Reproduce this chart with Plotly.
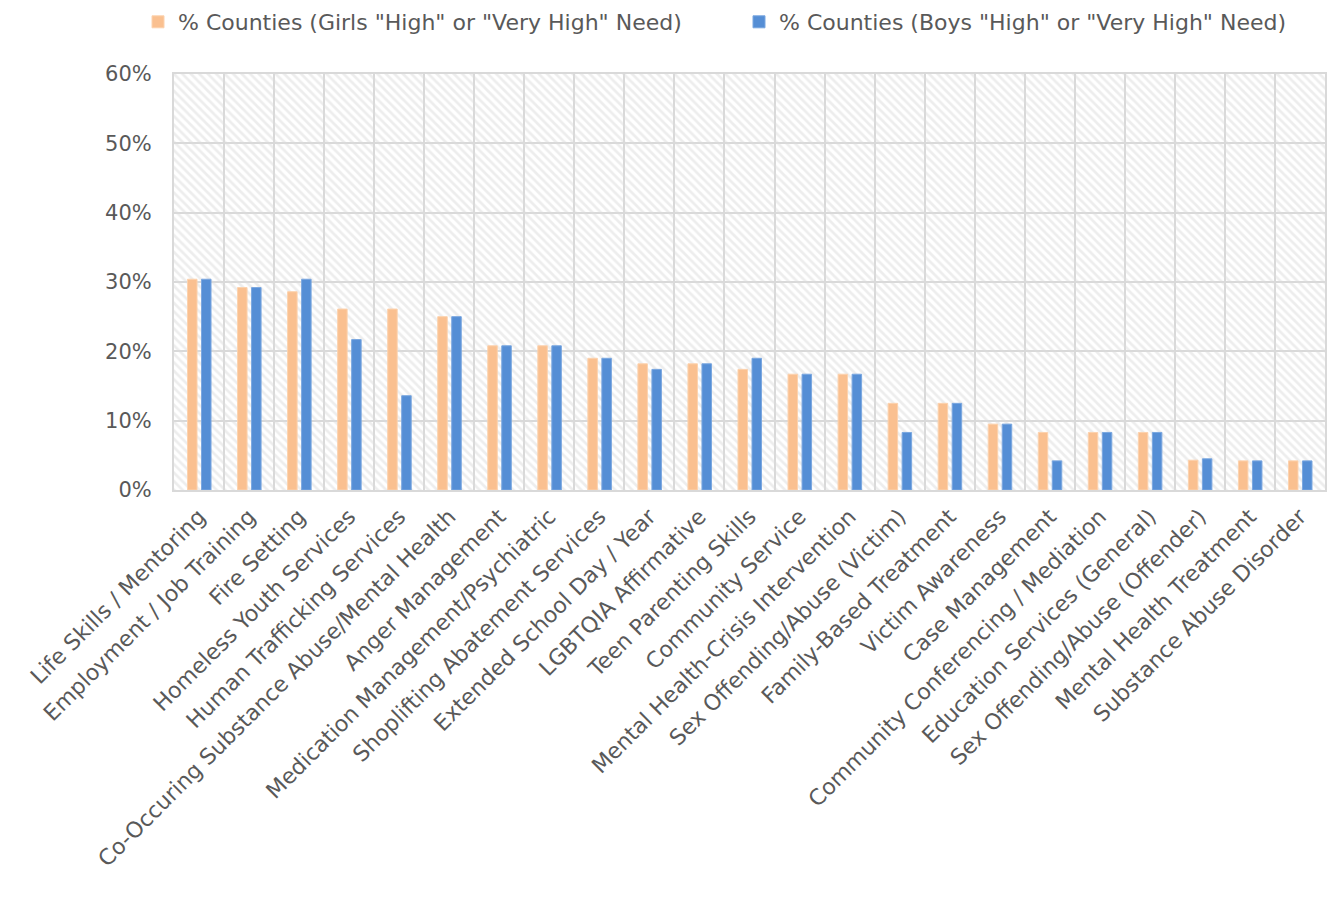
import plotly.graph_objects as go

categories = [
    "Life Skills / Mentoring", "Employment / Job Training", "Fire Setting",
    "Homeless Youth Services", "Human Trafficking Services",
    "Co-Occuring Substance Abuse/Mental Health", "Anger Management",
    "Medication Management/Psychiatric", "Shoplifting Abatement Services",
    "Extended School Day / Year", "LGBTQIA Affirmative", "Teen Parenting Skills",
    "Community Service", "Mental Health-Crisis Intervention",
    "Sex Offending/Abuse (Victim)", "Family-Based Treatment", "Victim Awareness",
    "Case Management", "Community Conferencing / Mediation",
    "Education Services (General)", "Sex Offending/Abuse (Offender)",
    "Mental Health Treatment", "Substance Abuse Disorder",
]
girls = [30.4, 29.2, 28.6, 26.1, 26.1, 25.0, 20.8, 20.8, 19.0, 18.2, 18.2, 17.4,
         16.7, 16.7, 12.5, 12.5, 9.5, 8.3, 8.3, 8.3, 4.3, 4.2, 4.2]
boys = [30.4, 29.2, 30.4, 21.7, 13.6, 25.0, 20.8, 20.8, 19.0, 17.4, 18.2, 19.0,
        16.7, 16.7, 8.3, 12.5, 9.5, 4.2, 8.3, 8.3, 4.5, 4.2, 4.2]
girls_name = '% Counties (Girls "High" or "Very High" Need)'
boys_name = '% Counties (Boys "High" or "Very High" Need)'
y_max = 60
y_ticks = [0, 10, 20, 30, 40, 50, 60]
y_ticktext = ["0%", "10%", "20%", "30%", "40%", "50%", "60%"]

FONT = "DejaVu Sans"
TXT = "#595959"
GRID = "#d9d9d9"
W, H = 1335, 899

fig = go.Figure()
# hatched plot-area background
fig.add_trace(go.Bar(
    x=categories, y=[y_max] * len(categories), width=1, showlegend=False,
    hoverinfo="skip",
    marker=dict(color="rgba(0,0,0,0)", line=dict(width=0),
                pattern=dict(shape="\\", fgcolor="#dcdcdc", bgcolor="rgba(0,0,0,0)",
                             size=6, solidity=0.45)),
))
fig.add_trace(go.Bar(
    x=categories, y=girls, name=girls_name, width=0.19, offset=-0.23,
    legend="legend",
    marker=dict(color="#FAC090", line=dict(color="#FCD2AE", width=1)),
))
fig.add_trace(go.Bar(
    x=categories, y=boys, name=boys_name, width=0.19, offset=0.05,
    legend="legend2",
    marker=dict(color="#558ED5", line=dict(color="#7AA7E0", width=1)),
))

leg_common = dict(orientation="h", xref="container", yref="container",
                  y=1 - 14 / H, xanchor="left", yanchor="middle",
                  font=dict(size=22, color=TXT, family=FONT), itemwidth=30,
                  bgcolor="rgba(0,0,0,0)")

fig.update_layout(
    width=W, height=H,
    barmode="overlay",
    paper_bgcolor="white", plot_bgcolor="white",
    margin=dict(l=166, r=18, t=66, b=417, autoexpand=False),
    font=dict(family=FONT, color=TXT, size=21),
    legend=dict(x=130 / W, **leg_common),
    legend2=dict(x=731 / W, **leg_common),
    xaxis=dict(type="category", tickson="boundaries", showgrid=True,
               gridcolor=GRID, gridwidth=2, tickangle=-45, ticks="",
               showline=True, linecolor=GRID, linewidth=2, mirror=True,
               automargin=False, ticklabelstandoff=3,
               tickfont=dict(size=22, color=TXT, family=FONT)),
    yaxis=dict(range=[0, y_max], tickmode="array", tickvals=y_ticks,
               ticktext=y_ticktext,
               showgrid=True, gridcolor=GRID, gridwidth=2, zeroline=False,
               showline=True, linecolor=GRID, linewidth=2, mirror=True,
               ticks="", ticklabelstandoff=16, automargin=False,
               tickfont=dict(size=21, color=TXT, family=FONT)),
)

fig.write_html("out.html")
